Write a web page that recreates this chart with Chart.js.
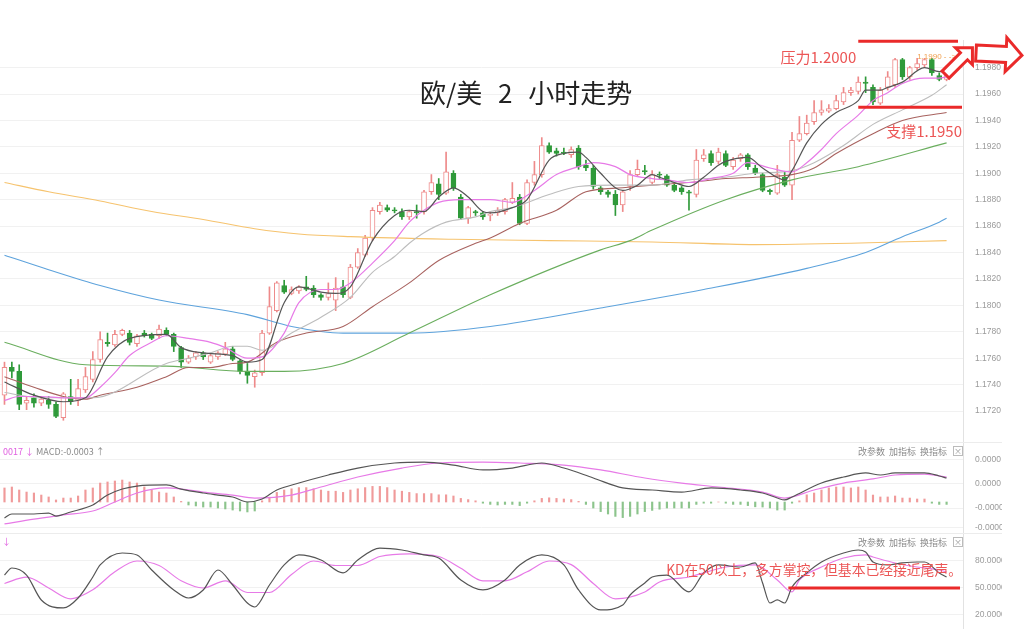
<!DOCTYPE html>
<html lang="zh">
<head>
<meta charset="utf-8">
<title>欧/美 2 小时走势</title>
<script src="https://cdn.jsdelivr.net/npm/chart.js@4.4.1/dist/chart.umd.min.js"></script>
<style>
  html, body { margin: 0; padding: 0; background: #fff; }
  body { width: 1024px; height: 629px; overflow: hidden; position: relative;
         font-family: "Noto Sans CJK SC", "Noto Sans", sans-serif; }
  .pane { position: absolute; left: 0; width: 1024px; }
  #pMain { top: 0; height: 441px; }
  #pMacd { top: 441px; height: 92px; }
  #pKd { top: 533px; height: 96px; }
  .sep { position: absolute; left: 0; width: 1002px; height: 1px; background: #ececec; }
  .title { position: absolute; left: 420px; top: 79px; font-size: 26px; line-height: 1; color: #222; white-space: nowrap; word-spacing: 10px; }
  .hdr { position: absolute; font-size: 9px; line-height: 1; color: #8a8a8a; white-space: nowrap; }
  .hdr .m { color: #e060e0; }
  .box { position: absolute; width: 8px; height: 8px; border: 1px solid #bbb; font-size: 8px; line-height: 8px; text-align: center; color: #999; }
</style>
</head>
<body>
<div class="pane" id="pMain"><canvas id="cMain"></canvas></div>
<div class="pane" id="pMacd"><canvas id="cMacd"></canvas></div>
<div class="pane" id="pKd"><canvas id="cKd"></canvas></div>
<div class="sep" style="top:442px"></div>
<div class="sep" style="top:533px"></div>

<div class="title">欧/美 2 小时走势</div>
<div class="hdr" style="left:3px;top:447px"><span class="m">0017 ↓</span> MACD:-0.0003 ↑</div>
<div class="hdr" style="left:858px;top:447px">改参数 &nbsp;加指标 &nbsp;换指标</div>
<div class="box" style="left:953px;top:446px">×</div>
<div class="hdr" style="left:2px;top:537px"><span class="m">↓</span></div>
<div class="hdr" style="left:858px;top:538px">改参数 &nbsp;加指标 &nbsp;换指标</div>
<div class="box" style="left:953px;top:537px">×</div>

<script>
// 2-hour EUR/USD candles, index 0 = leftmost bar
const OPEN = [1.1732,1.1753,1.1750,1.1726,1.1730,1.1726,1.1728,1.1725,1.1715,1.1731,
  1.1728,1.1736,1.1744,1.1759,1.1772,1.1770,1.1778,1.1779,1.1771,1.1779,
  1.1778,1.1777,1.1781,1.1778,1.1768,1.1757,1.1761,1.1764,1.1757,1.1761,
  1.1763,1.1767,1.1758,1.1750,1.1746,1.1749,1.1779,1.1796,1.1815,1.1809,
  1.1811,1.1814,1.1813,1.1808,1.1806,1.1804,1.1814,1.1806,1.1829,1.1838,
  1.1851,1.1871,1.1874,1.1872,1.1871,1.1867,1.1871,1.1871,1.1886,1.1892,
  1.1885,1.1900,1.1882,1.1866,1.1871,1.1870,1.1868,1.1870,1.1871,1.1878,
  1.1882,1.1862,1.1893,1.1899,1.1921,1.1917,1.1916,1.1914,1.1919,1.1906,
  1.1904,1.1889,1.1886,1.1884,1.1876,1.1890,1.1899,1.1902,1.1893,1.1899,
  1.1898,1.1891,1.1889,1.1886,1.1884,1.1911,1.1915,1.1909,1.1915,1.1905,
  1.1911,1.1914,1.1904,1.1899,1.1887,1.1885,1.1897,1.1891,1.1925,1.1930,
  1.1939,1.1946,1.1947,1.1949,1.1954,1.1961,1.1962,1.1969,1.1965,1.1953,
  1.1965,1.1967,1.1986,1.1973,1.1980,1.1982,1.1986,1.1974,1.1971];
const HIGH = [1.1757,1.1757,1.1755,1.1731,1.1733,1.1731,1.1731,1.1727,1.1734,1.1744,
  1.1744,1.1753,1.1765,1.1780,1.1779,1.1781,1.1782,1.1781,1.1778,1.1781,
  1.1779,1.1785,1.1783,1.1779,1.1769,1.1762,1.1765,1.1765,1.1763,1.1765,
  1.1772,1.1769,1.1759,1.1756,1.1751,1.1781,1.1814,1.1818,1.1819,1.1814,
  1.1815,1.1822,1.1815,1.1809,1.1817,1.1821,1.1819,1.1831,1.1843,1.1853,
  1.1874,1.1878,1.1876,1.1874,1.1873,1.1872,1.1876,1.1887,1.1899,1.1896,
  1.1916,1.1902,1.1884,1.1875,1.1872,1.1871,1.1871,1.1874,1.1881,1.1893,
  1.1884,1.1895,1.1909,1.1927,1.1923,1.1919,1.1919,1.1920,1.1921,1.1910,
  1.1906,1.1890,1.1887,1.1887,1.1887,1.1902,1.1910,1.1906,1.1902,1.1901,
  1.1899,1.1893,1.1890,1.1887,1.1918,1.1918,1.1917,1.1919,1.1917,1.1912,
  1.1915,1.1915,1.1906,1.1900,1.1888,1.1906,1.1901,1.1931,1.1943,1.1944,
  1.1955,1.1955,1.1952,1.1959,1.1965,1.1965,1.1973,1.1973,1.1967,1.1965,
  1.1977,1.1987,1.1987,1.1981,1.1987,1.1987,1.1987,1.1976,1.1977];
const LOW = [1.1725,1.1745,1.1721,1.1721,1.1723,1.1724,1.1722,1.1715,1.1713,1.1725,
  1.1724,1.1734,1.1742,1.1757,1.1769,1.1769,1.1777,1.1770,1.1769,1.1776,
  1.1774,1.1775,1.1777,1.1765,1.1753,1.1756,1.1759,1.1759,1.1756,1.1759,
  1.1762,1.1758,1.1748,1.1741,1.1738,1.1747,1.1778,1.1795,1.1809,1.1808,
  1.1809,1.1811,1.1806,1.1804,1.1804,1.1796,1.1806,1.1805,1.1828,1.1837,
  1.1849,1.1869,1.1871,1.1870,1.1865,1.1865,1.1866,1.1869,1.1884,1.1880,
  1.1884,1.1887,1.1865,1.1862,1.1868,1.1865,1.1864,1.1868,1.1869,1.1877,
  1.1861,1.1861,1.1891,1.1897,1.1915,1.1913,1.1914,1.1912,1.1903,1.1902,
  1.1888,1.1884,1.1882,1.1868,1.1871,1.1887,1.1898,1.1899,1.1892,1.1896,
  1.1890,1.1886,1.1884,1.1872,1.1882,1.1909,1.1906,1.1907,1.1905,1.1903,
  1.1909,1.1903,1.1899,1.1886,1.1884,1.1884,1.1890,1.1880,1.1924,1.1929,
  1.1937,1.1944,1.1946,1.1948,1.1952,1.1959,1.1960,1.1961,1.1952,1.1952,
  1.1963,1.1965,1.1971,1.1971,1.1978,1.1980,1.1974,1.1970,1.1970];
const CLOSE = [1.1753,1.1750,1.1725,1.1728,1.1726,1.1729,1.1725,1.1716,1.1733,1.1727,
  1.1737,1.1746,1.1759,1.1774,1.1771,1.1778,1.1781,1.1772,1.1777,1.1777,
  1.1775,1.1782,1.1778,1.1769,1.1757,1.1760,1.1764,1.1761,1.1762,1.1764,
  1.1767,1.1759,1.1750,1.1747,1.1749,1.1779,1.1799,1.1817,1.1810,1.1812,
  1.1814,1.1812,1.1808,1.1806,1.1809,1.1813,1.1808,1.1829,1.1840,1.1851,
  1.1872,1.1876,1.1872,1.18715,1.1867,1.1871,1.1870,1.1886,1.1893,1.1884,
  1.1901,1.1889,1.1866,1.1874,1.1870,1.1867,1.1869,1.1872,1.1880,1.1881,
  1.1862,1.1893,1.1899,1.1921,1.1916,1.1915,1.1915,1.1918,1.1905,1.1904,
  1.1890,1.1886,1.1884,1.1876,1.1886,1.1899,1.1903,1.1901,1.1899,1.18985,
  1.1891,1.1887,1.1886,1.1885,1.1910,1.1914,1.1908,1.1916,1.1906,1.1910,
  1.1914,1.1905,1.1900,1.1887,1.1886,1.1899,1.1891,1.1925,1.1930,1.1938,
  1.1946,1.1948,1.1949,1.1955,1.1961,1.1963,1.1969,1.1968,1.1954,1.1963,
  1.1973,1.1986,1.1973,1.1980,1.1983,1.1986,1.1976,1.1971,1.1976];

// moving averages at sample bars
const MA5_IDX = [0,4,8,11,14,17,22,24,27,31,33,35,38,40,43,45,47,50,53,55,57,59,61,63,65,66,69,71,74,76,78,79,81,83,84,86,88,89,91,93,95,97,98,101,103,106,107,109,111,113,116,117,119,120,122,125,127,128];
const MA5_VAL = [1.1742,1.1732,1.1727,1.1730,1.1761,1.1775,1.1778,1.1768,1.1764,1.1762,1.1757,1.1759,1.1802,1.1814,1.1810,1.1809,1.1814,1.1849,1.1868,1.1872,1.1871,1.1882,1.1889,1.1882,1.1871,1.1870,1.1874,1.1880,1.1910,1.1915,1.1916,1.1912,1.1900,1.1889,1.1887,1.1891,1.1899,1.1897,1.1893,1.1890,1.1897,1.1906,1.1909,1.1912,1.1904,1.1895,1.1902,1.1923,1.1937,1.1946,1.1955,1.1963,1.1963,1.1965,1.1969,1.1980,1.1977,1.1977];
const MA10_IDX = [0,2,5,8,11,13,15,17,20,22,25,28,30,33,35,38,40,43,45,47,50,53,55,57,59,62,64,66,69,72,75,78,80,83,85,88,90,93,96,99,101,104,107,109,111,113,116,118,120,122,125,127,128];
const MA10_VAL = [1.1728,1.1731,1.1731,1.1730,1.1730,1.1738,1.1749,1.1762,1.1772,1.1777,1.1775,1.1772,1.1768,1.1760,1.1761,1.1779,1.1802,1.1812,1.1812,1.1817,1.1832,1.1849,1.1863,1.1872,1.1878,1.1880,1.1880,1.1880,1.1878,1.1887,1.1899,1.1905,1.1908,1.1905,1.1899,1.1896,1.1895,1.1893,1.1896,1.1900,1.1908,1.1904,1.1901,1.1908,1.1918,1.1930,1.1944,1.1955,1.1961,1.1968,1.1972,1.1972,1.1973];
const MA20_IDX = [0,5,12,22,25,28,31,33,35,39,43,47,50,53,55,57,60,64,66,69,74,78,83,88,93,98,102,107,110,114,118,122,126,128];
const MA20_VAL = [1.1734,1.1730,1.1730,1.1756,1.1760,1.1764,1.1769,1.1769,1.1766,1.1779,1.1791,1.1806,1.1825,1.1837,1.1847,1.1855,1.1863,1.1867,1.1871,1.1874,1.1884,1.1890,1.1891,1.1891,1.1895,1.1897,1.1900,1.1902,1.1908,1.1921,1.1937,1.1948,1.1959,1.1967];
const MA30_IDX = [0,4,8,11,13,18,22,25,28,31,33,37,41,46,50,55,59,64,66,70,75,79,84,88,93,98,102,107,110,113,118,122,128];
const MA30_VAL = [1.1746,1.1738,1.1731,1.1729,1.1732,1.1738,1.1746,1.1753,1.1753,1.1756,1.1757,1.1772,1.1779,1.1784,1.1799,1.1817,1.1834,1.1847,1.1851,1.1862,1.1872,1.1886,1.1889,1.1891,1.1893,1.1896,1.1897,1.1899,1.1904,1.1915,1.1930,1.1940,1.1946];
const MA60_IDX = [0,11,22,33,38,46,55,66,81,85,88,98,107,116,128];
const MA60_VAL = [1.1772,1.1755,1.1754,1.1750,1.1750,1.1756,1.1779,1.1808,1.1842,1.1849,1.1857,1.1880,1.1895,1.1905,1.1923];
const MA120_IDX = [0,6,13,21,33,39,46,55,66,81,95,109,117,122,127,128];
const MA120_VAL = [1.1838,1.1827,1.1815,1.1804,1.1793,1.1784,1.1779,1.1779,1.1784,1.1798,1.1812,1.1828,1.1840,1.1852,1.1863,1.1866];
const MA250_IDX = [0,6,13,20,27,34,40,47,61,74,88,102,115,128];
const MA250_VAL = [1.1893,1.1886,1.1879,1.1871,1.1865,1.1858,1.1854,1.1852,1.1850,1.1849,1.1848,1.1846,1.1847,1.1849];

// MACD (units of 0.00001)
const HIST = [1.17,1.25,1.0,0.83,0.75,0.58,0.42,0.17,0.33,0.33,
  0.5,1.0,1.17,1.58,1.67,1.75,1.83,1.67,1.58,1.25,
  1.0,0.83,0.75,0.42,0.05,-0.25,-0.33,-0.42,-0.42,-0.5,
  -0.58,-0.67,-0.75,-0.83,-0.75,0.1,0.4,0.8,1.0,1.1,
  1.2,1.2,1.1,1.0,0.9,0.9,0.8,1.0,1.1,1.2,
  1.3,1.3,1.2,1.0,0.9,0.8,0.7,0.7,0.7,0.6,
  0.6,0.5,0.3,0.2,0.1,-0.1,-0.2,-0.25,-0.2,-0.2,
  -0.3,-0.1,0.1,0.3,0.35,0.3,0.25,0.2,0.05,-0.2,
  -0.5,-0.8,-1.0,-1.2,-1.3,-1.2,-1.0,-0.8,-0.7,-0.6,
  -0.5,-0.5,-0.5,-0.5,-0.2,-0.1,-0.1,0.0,-0.1,-0.2,
  -0.2,-0.3,-0.4,-0.42,-0.5,-0.67,-0.67,-0.1,0.1,0.6,
  0.75,1.0,1.17,1.25,1.25,1.17,1.25,1.0,0.58,0.42,
  0.42,0.5,0.33,0.33,0.25,0.25,-0.1,-0.2,-0.2];
const DIF_IDX = [0,1,4,6,7,9,12,14,16,18,22,24,27,29,31,33,35,37,40,44,48,53,57,61,65,69,73,76,80,84,88,92,96,100,103,105,106,107,111,114,117,119,121,125,127,128];
const DIF_VAL = [-1.33,-1.0,-1.0,-0.92,-1.17,-0.83,-0.25,0.58,1.08,1.33,1.42,1.08,0.75,0.58,0.42,0,0.25,1.0,1.58,2.25,2.83,3.25,3.33,3.08,2.67,2.83,3.25,2.83,2.0,1.17,1.0,0.83,1.17,1.0,0.75,0.33,0.17,0.42,1.58,2.08,2.42,2.25,2.42,2.42,2.17,2.0];
const DEA_IDX = [0,4,8,12,15,18,22,24,27,31,34,39,43,48,54,59,65,70,76,81,87,92,97,103,106,110,114,118,121,125,128];
const DEA_VAL = [-1.83,-1.42,-1.08,-0.75,0,0.75,1.17,1.08,0.83,0.58,0.33,0.58,1.25,2.08,2.83,3.25,3.33,3.25,3.08,2.67,2.0,1.58,1.25,0.83,0.33,1.0,1.58,1.92,2.25,2.33,2.08];
const MACD_TICKS = [3.5, 1.5, -0.5, -2.1];

// KD
const K_IDX = [0,1,3,5,8,10,12,13,16,18,20,23,25,27,29,31,33,34,36,38,40,43,46,48,51,54,57,59,62,65,68,70,73,76,78,81,84,85,87,88,90,93,95,97,100,102,103,104,105,106,107,109,111,114,116,117,118,120,122,124,125,127,128];
const K_VAL = [64.4,72.2,64.4,36.7,27.8,38.9,62.2,75.6,88.9,86.7,70,47.8,38.9,47.8,70,53.3,33.3,28.9,53.3,75.6,86.7,81.1,66.7,81.1,94.4,92.2,86.7,83.3,58.9,47.8,58.9,75.6,86.7,75.6,47.8,25.6,31.1,42.2,55.6,62.2,64.4,45.6,66.7,75.6,73.3,77.8,55.6,33.3,36.7,33.3,51.1,66.7,78.9,88.9,92.2,90,78.9,75.6,77.8,78.9,78.9,66.7,62.2];
const D_IDX = [0,3,6,9,12,15,18,21,24,27,30,33,36,39,42,45,48,51,55,59,62,65,68,71,74,77,80,83,87,89,93,98,102,105,107,108,111,114,117,118,121,124,127,128];
const D_VAL = [55,62,50,38,48,68,80,75,58,50,58,45,45,65,80,75,75,85,88,85,72,58,58,68,80,76,55,38,45.6,56.7,62.2,73.3,75.6,58.9,45.6,58.9,73.3,83.3,86.7,84.4,77.8,73.3,70,67.8];
const KD_TICKS = [80, 50, 20];

const PRICE_TICKS = [1.1980,1.1960,1.1940,1.1920,1.1900,1.1880,1.1860,1.1840,1.1820,1.1800,1.1780,1.1760,1.1740,1.1720];

// annotation levels
const RES_LEVEL = 1.2000, SUP_LEVEL = 1.1950, ZONE_FROM = 116;
const KD_LEVEL = 50, KD_FROM = 106.5, KD_TEXT_AT = 70;
const HIGH_MARK = 1.1990;

const UP = '#ee8a8a', DOWN = '#2f9a3a', RED = '#ea2a2a', NOTE = '#ec5656';
const AXIS_W = 39;

function pts(idx, vals) { return idx.map((x, k) => ({ x, y: vals[k] })); }
const isUp = i => CLOSE[i] >= OPEN[i];

function xScale() {
  return { type: 'linear', min: -0.61, max: 130.23, offset: false, display: false };
}
function yScale(min, max, ticks, fmt) {
  return {
    position: 'right', min, max,
    afterBuildTicks: s => { s.ticks = ticks.map(v => ({ value: v })); },
    afterFit: s => { s.width = AXIS_W; s.paddingTop = 0; s.paddingBottom = 0; },
    ticks: { color: '#9b9b9b', font: { size: 8.5, family: 'Liberation Sans' }, padding: 12, callback: fmt },
    grid: { color: '#f1f1f1', drawTicks: false },
    border: { display: true, color: '#e2e2e2' }
  };
}
function lineDs(data, color, width) {
  return { type: 'line', data, borderColor: color, borderWidth: width || 1.1, pointRadius: 0,
           cubicInterpolationMode: 'monotone', fill: false, order: 0 };
}
const common = { responsive: true, maintainAspectRatio: false, animation: false, events: [],
                 plugins: { legend: { display: false }, tooltip: { enabled: false } } };

function blockArrow(ctx, cx, cy, len, shaft, head, headLen, angle) {
  const h = len / 2;
  ctx.save();
  ctx.translate(cx, cy); ctx.rotate(angle);
  ctx.beginPath();
  ctx.moveTo(-h, -shaft); ctx.lineTo(h - headLen, -shaft); ctx.lineTo(h - headLen, -head);
  ctx.lineTo(h, 0); ctx.lineTo(h - headLen, head); ctx.lineTo(h - headLen, shaft); ctx.lineTo(-h, shaft);
  ctx.closePath();
  ctx.fillStyle = '#fff'; ctx.fill();
  ctx.lineJoin = 'miter'; ctx.stroke();
  ctx.restore();
}

const mainNotes = {
  id: 'mainNotes',
  afterDatasetsDraw(chart) {
    const { ctx, chartArea: a, scales: { x, y } } = chart;
    const yr = y.getPixelForValue(RES_LEVEL), ys = y.getPixelForValue(SUP_LEVEL);
    const x0 = x.getPixelForValue(ZONE_FROM);
    ctx.save();
    ctx.strokeStyle = RED; ctx.lineWidth = 3;
    ctx.beginPath(); ctx.moveTo(x0, yr); ctx.lineTo(a.right - 5, yr); ctx.stroke();
    ctx.beginPath(); ctx.moveTo(x0, ys); ctx.lineTo(a.right - 1, ys); ctx.stroke();
    ctx.fillStyle = NOTE; ctx.font = '15px "Noto Sans CJK SC"';
    ctx.textAlign = 'right'; ctx.textBaseline = 'middle';
    ctx.fillText('压力1.2000', x0 - 2, yr + 16);
    ctx.fillText('支撑1.1950', a.right - 1, ys + 24);
    // highest price tag
    ctx.fillStyle = '#f0a050'; ctx.font = '8px "Liberation Sans"'; ctx.textAlign = 'left';
    ctx.fillText(HIGH_MARK.toFixed(4) + ' - ->', x.getPixelForValue(124), y.getPixelForValue(HIGH_MARK) + 2);
    // arrows
    ctx.strokeStyle = RED; ctx.lineWidth = 3;
    blockArrow(ctx, a.right - 4, yr + 20, 38, 5, 12, 12, -Math.PI / 4);
    blockArrow(ctx, a.right + 36, yr + 13, 46, 8, 17, 16, 0.05);
    ctx.restore();
  }
};

const kdNotes = {
  id: 'kdNotes',
  afterDatasetsDraw(chart) {
    const { ctx, chartArea: a, scales: { x, y } } = chart;
    ctx.save();
    ctx.strokeStyle = RED; ctx.lineWidth = 3;
    const yl = y.getPixelForValue(KD_LEVEL);
    ctx.beginPath(); ctx.moveTo(x.getPixelForValue(KD_FROM), yl); ctx.lineTo(a.right - 3, yl); ctx.stroke();
    ctx.fillStyle = NOTE; ctx.font = '13.8px "Noto Sans CJK SC"';
    ctx.textAlign = 'right'; ctx.textBaseline = 'middle';
    ctx.fillText('KD在50以上，多方掌控，但基本已经接近尾声。', a.right - 1, y.getPixelForValue(KD_TEXT_AT));
    ctx.restore();
  }
};

// main price pane
new Chart(document.getElementById('cMain'), {
  data: {
    datasets: [
      lineDs(pts(MA5_IDX, MA5_VAL), '#555555', 1.2),
      lineDs(pts(MA10_IDX, MA10_VAL), '#e77ae7', 1.2),
      lineDs(pts(MA20_IDX, MA20_VAL), '#bdbdbd'),
      lineDs(pts(MA30_IDX, MA30_VAL), '#a8625f'),
      lineDs(pts(MA60_IDX, MA60_VAL), '#6aae5e'),
      lineDs(pts(MA120_IDX, MA120_VAL), '#5ea3dc'),
      lineDs(pts(MA250_IDX, MA250_VAL), '#f6c36e'),
      { type: 'bar', order: 1, grouped: false, barThickness: 5, minBarLength: 1,
        data: OPEN.map((o, i) => ({ x: i, y: [o, CLOSE[i]] })),
        backgroundColor: c => isUp(c.dataIndex) ? '#ffffff' : DOWN,
        borderColor: c => isUp(c.dataIndex) ? UP : DOWN,
        borderWidth: 1, borderSkipped: false },
      { type: 'bar', order: 2, grouped: false, barThickness: 1,
        data: LOW.map((l, i) => ({ x: i, y: [l, HIGH[i]] })),
        backgroundColor: c => isUp(c.dataIndex) ? UP : DOWN, borderWidth: 0 }
    ]
  },
  options: Object.assign({}, common, {
    layout: { padding: { top: 40, right: 22, left: 0, bottom: 0 } },
    scales: { x: xScale(), y: yScale(1.16973, 1.20009, PRICE_TICKS, v => v.toFixed(4)) }
  }),
  plugins: [mainNotes]
});

// MACD pane
new Chart(document.getElementById('cMacd'), {
  data: {
    datasets: [
      lineDs(pts(DIF_IDX, DIF_VAL), '#555555', 1.2),
      lineDs(pts(DEA_IDX, DEA_VAL), '#e77ae7', 1.2),
      { type: 'bar', order: 1, grouped: false, barThickness: 1.5,
        data: HIST.map((v, i) => ({ x: i, y: v })),
        backgroundColor: c => HIST[c.dataIndex] >= 0 ? '#f09a9a' : '#8cc48c', borderWidth: 0 }
    ]
  },
  options: Object.assign({}, common, {
    layout: { padding: { top: 0, right: 22, left: 0, bottom: 0 } },
    scales: { x: xScale(), y: yScale(-2.583, 5.083, MACD_TICKS, v => (v * 1e-5).toFixed(4)) }
  })
});

// KD pane
new Chart(document.getElementById('cKd'), {
  data: {
    datasets: [
      lineDs(pts(K_IDX, K_VAL), '#555555', 1.2),
      lineDs(pts(D_IDX, D_VAL), '#e77ae7', 1.2)
    ]
  },
  options: Object.assign({}, common, {
    layout: { padding: { top: 0, right: 22, left: 0, bottom: 0 } },
    scales: { x: xScale(), y: yScale(4.44, 111.1, KD_TICKS, v => v.toFixed(4)) }
  }),
  plugins: [kdNotes]
});
</script>
</body>
</html>
